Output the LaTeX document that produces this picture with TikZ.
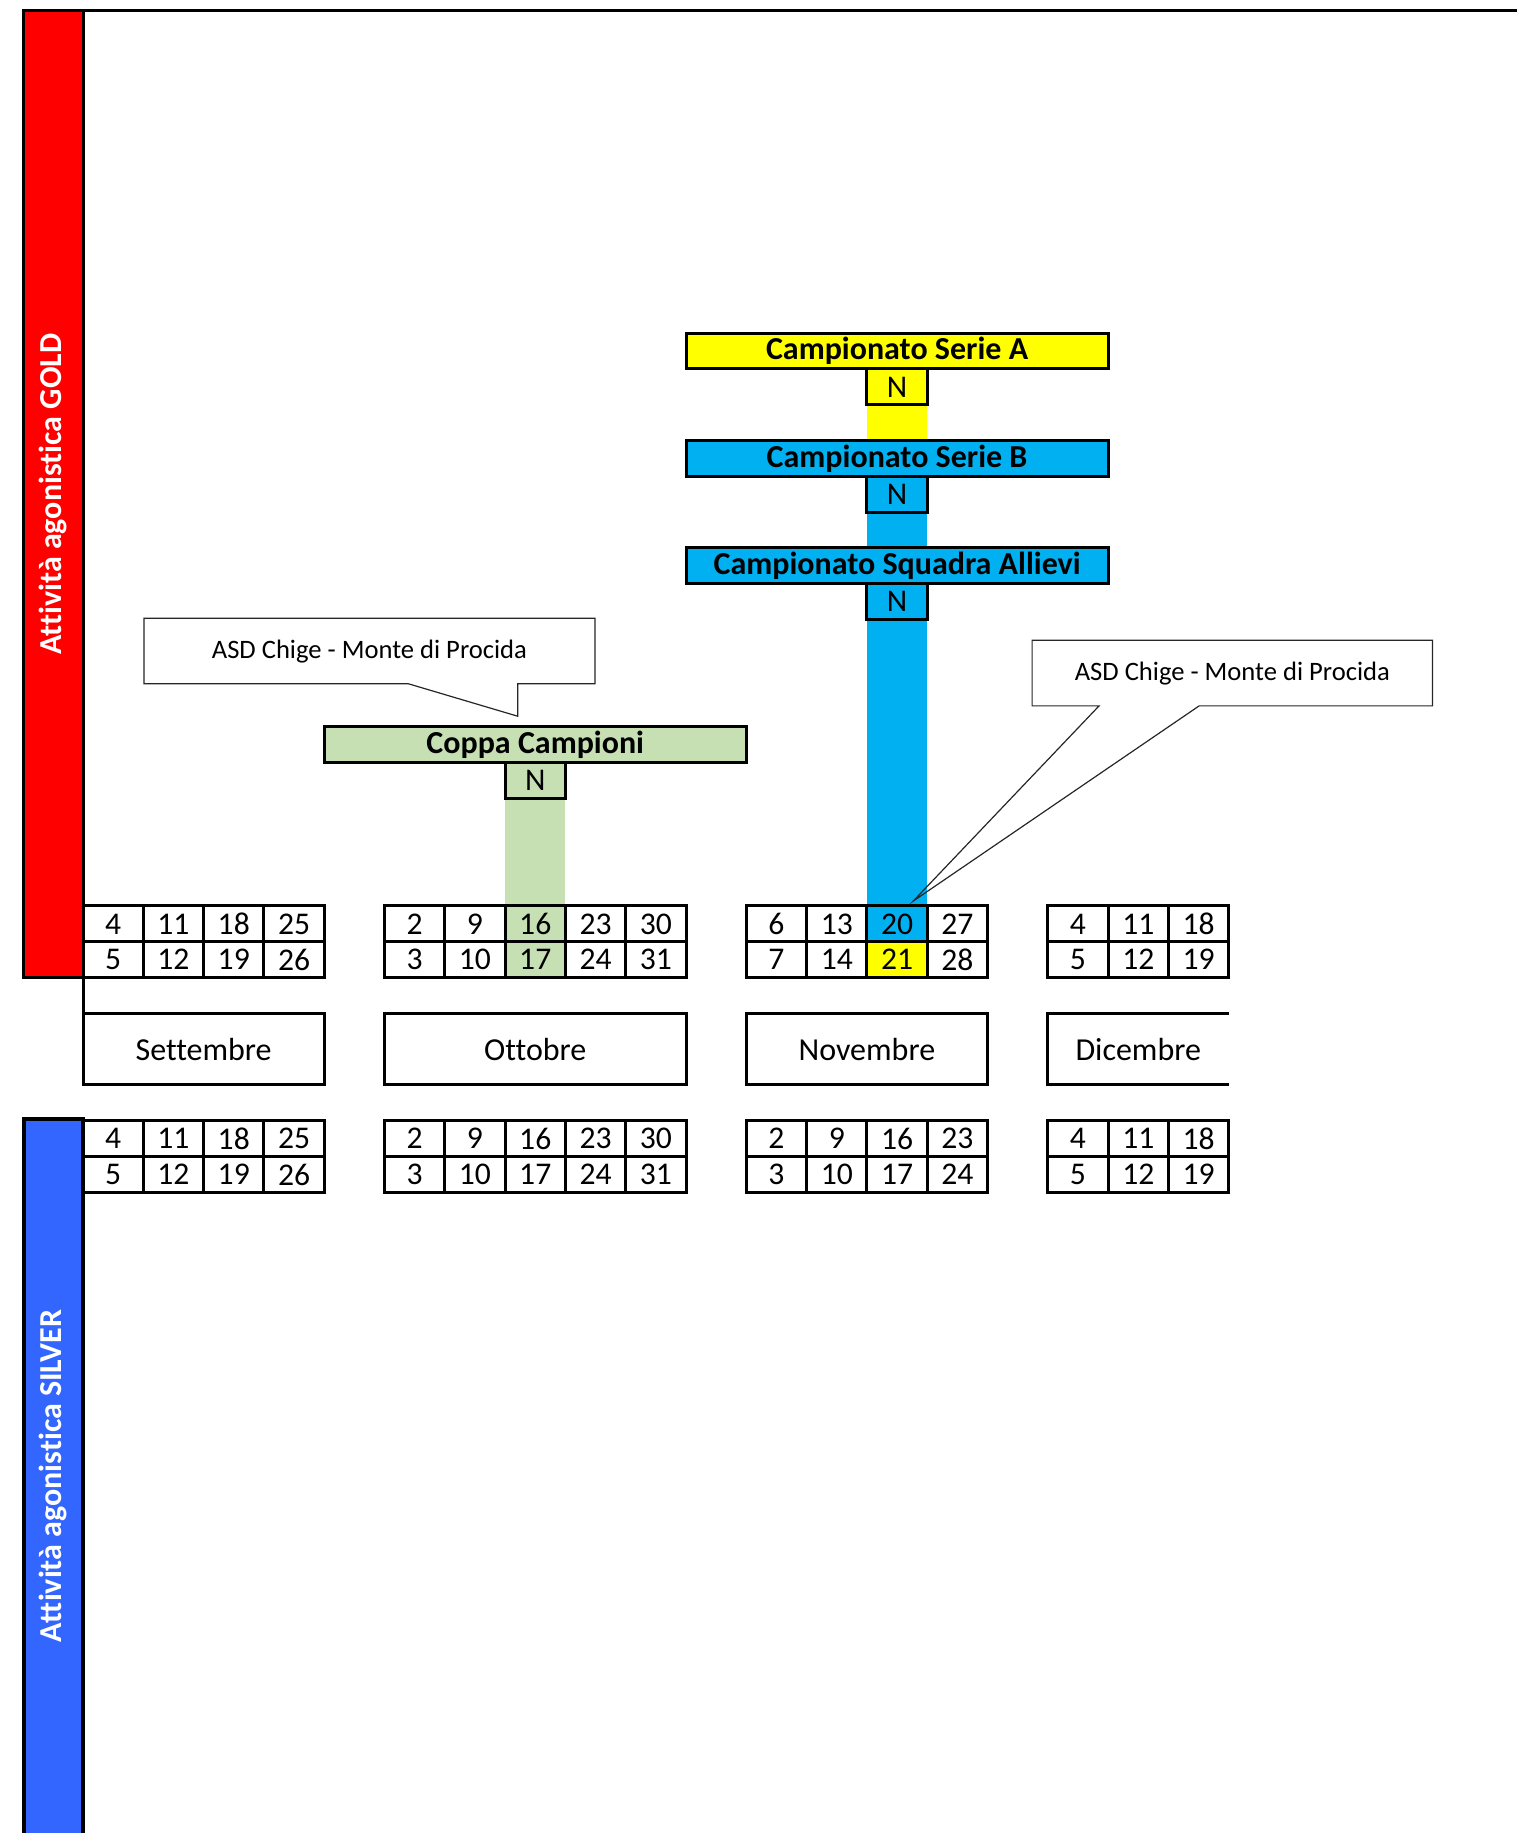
\documentclass[tikz,border=0pt]{standalone}
\usepackage{fontspec}
\setmainfont{Carlito}[Ligatures={NoCommon}]
\definecolor{rosso}{HTML}{FF0000}
\definecolor{blusilver}{HTML}{3366FF}
\definecolor{giallo}{HTML}{FFFF00}
\definecolor{azzurro}{HTML}{00B0F0}
\definecolor{verde}{HTML}{C6E0B4}
\tikzset{
  cella/.style={line width=1.5pt, font=\fontsize{15.8}{18}\selectfont},
  titolo/.style={line width=1.5pt, font=\fontsize{16}{19}\selectfont\bfseries},
  mese/.style={line width=1.5pt, font=\fontsize{16}{19}\selectfont},
  fumetto/.style={line width=0.6pt, draw=black!85, font=\fontsize{13.3}{16}\selectfont},
  fascia/.style={text=white, rotate=90, font=\fontsize{16}{19}\selectfont\bfseries}
}
\begin{document}
\begin{tikzpicture}[x=30.15pt, y=17.9pt]
  \useasboundingbox (-1.3765,25.307) rectangle (23.781,-25.894);
  % colonne colorate
  \fill[verde] (7,3) rectangle (8,-2);
  \fill[giallo] (13,14) rectangle (14,13);
  \fill[azzurro] (13,11) rectangle (14,10);
  \fill[azzurro] (13,8) rectangle (14,-1);
  \fill[giallo] (13,-1) rectangle (14,-2);
  % fasce laterali
  \draw[line width=1.5pt, fill=rosso] (-0.98,25) rectangle (0,-2);
  \node[fascia] (gold) at (-0.49,11.5) {Attività agonistica GOLD};
  \draw[line width=1.5pt] (0,25) -- (24,25);
  \draw[line width=1.5pt] (0,-2) -- (0,-3);
  \draw[line width=2pt, fill=blusilver] (0,-26.3) -- (0,-5.94) -- (-0.98,-5.94) -- (-0.98,-26.3);
  \node[fascia] (silver) at (-0.49,-15.92) {Attività agonistica SILVER};
  % gare
  \draw[titolo, fill=giallo] (10,16) rectangle node (serieA) {Campionato Serie A} (17,15);
  \draw[cella, fill=giallo] (13,15) rectangle node (nA) {N} (14,14);
  \draw[titolo, fill=azzurro] (10,13) rectangle node (serieB) {Campionato Serie B} (17,12);
  \draw[cella, fill=azzurro] (13,12) rectangle node (nB) {N} (14,11);
  \draw[titolo, fill=azzurro] (10,10) rectangle node (allievi) {Campionato Squadra Allievi} (17,9);
  \draw[cella, fill=azzurro] (13,9) rectangle node (nAll) {N} (14,8);
  \draw[titolo, fill=verde] (4,5) rectangle node (coppa) {Coppa Campioni} (11,4);
  \draw[cella, fill=verde] (7,4) rectangle node (nCoppa) {N} (8,3);
  % calendario GOLD
  \foreach \c/\a/\b [count=\i] in {0/4/5, 1/11/12, 2/18/19, 3/25/26, 5/2/3, 6/9/10, 7/16/17, 8/23/24, 9/30/31, 11/6/7, 12/13/14, 13/20/21, 14/27/28, 16/4/5, 17/11/12, 18/18/19}{
    \draw[cella] (\c,0) rectangle node (g\i a) {\a} (\c+1,-1);
    \draw[cella] (\c,-1) rectangle node (g\i b) {\b} (\c+1,-2);
  }
  % mesi
  \draw[mese] (0,-3) rectangle node (set) {Settembre} (4,-5);
  \draw[mese] (5,-3) rectangle node (ott) {Ottobre} (10,-5);
  \draw[mese] (11,-3) rectangle node (nov) {Novembre} (15,-5);
  \draw[mese] (19,-3) -- (16,-3) -- (16,-5) -- (19,-5);
  \node[mese] (dic) at (17.5,-4) {Dicembre};
  % calendario SILVER
  \foreach \c/\a/\b [count=\i] in {0/4/5, 1/11/12, 2/18/19, 3/25/26, 5/2/3, 6/9/10, 7/16/17, 8/23/24, 9/30/31, 11/2/3, 12/9/10, 13/16/17, 14/23/24, 16/4/5, 17/11/12, 18/18/19}{
    \draw[cella] (\c,-6) rectangle node (s\i a) {\a} (\c+1,-7);
    \draw[cella] (\c,-7) rectangle node (s\i b) {\b} (\c+1,-8);
  }
  % fumetti
  \coordinate (punta1) at (7.21,5.30);
  \draw[fumetto, fill=white] (1.01,8.04) -- (8.49,8.04) -- (8.49,6.21) -- (7.21,6.21) -- (punta1) -- (5.39,6.21) -- (1.01,6.21) -- cycle;
  \node[fumetto, draw=none] (asd1) at (4.75,7.12) {ASD Chige - Monte di Procida};
  \coordinate (punta2) at (13.77,0.14);
  \draw[fumetto] (15.74,7.42) -- (22.38,7.42) -- (22.38,5.59) -- (18.51,5.59) -- (punta2) -- (16.85,5.59) -- (15.74,5.59) -- cycle;
  \node[fumetto, draw=none] (asd2) at (19.06,6.5) {ASD Chige - Monte di Procida};
\end{tikzpicture}
\end{document}
